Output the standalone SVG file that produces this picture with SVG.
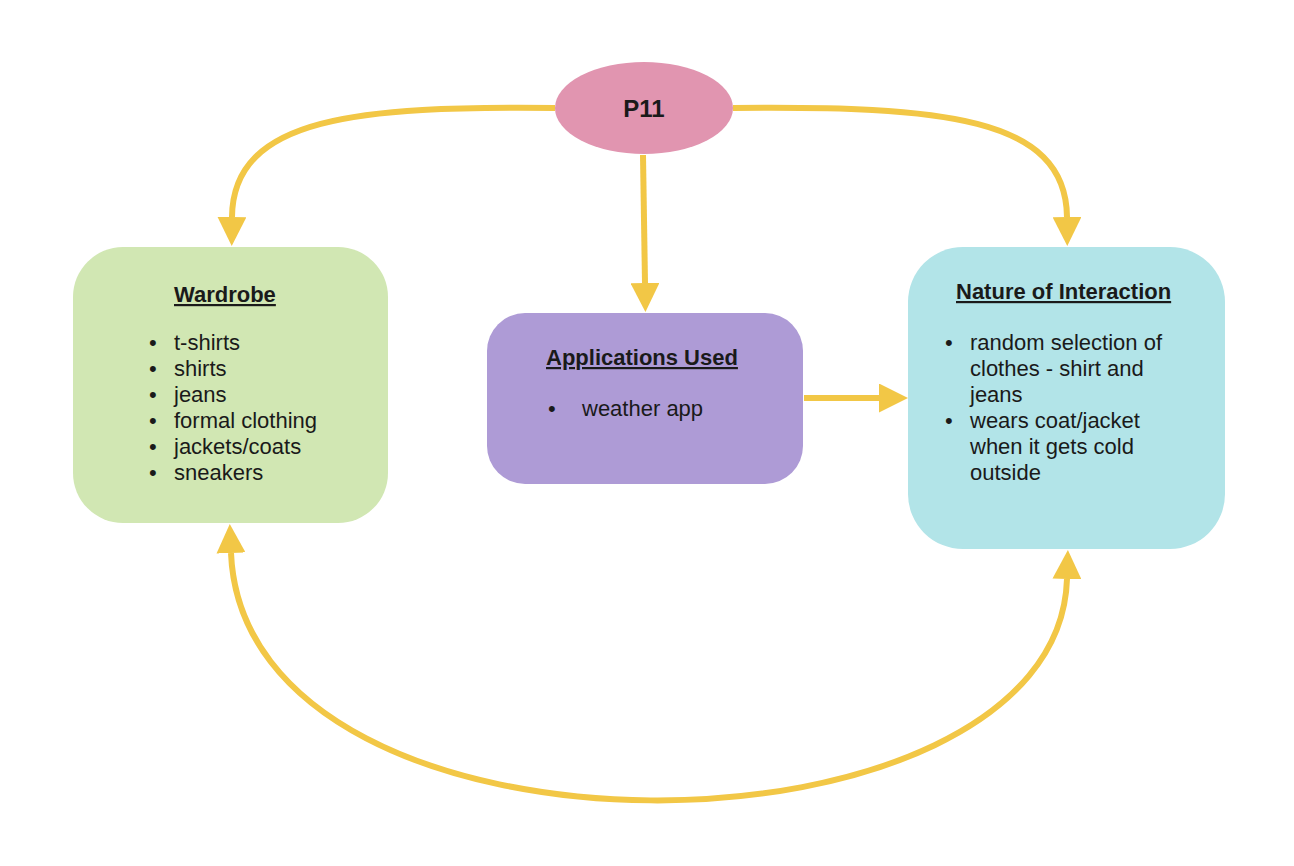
<svg xmlns="http://www.w3.org/2000/svg" width="1294" height="866" viewBox="0 0 1294 866">
  <defs>
    <style>
      .conn { fill: none; stroke: #f2c746; stroke-width: 6; }
      .t { font-family: "Liberation Sans", Arial, sans-serif; font-size: 22px; fill: #1a1a1a; }
      .title { font-weight: bold; text-decoration: underline; }
    </style>
    <marker id="ah" viewBox="0 0 29 29" refX="0" refY="14.5" markerWidth="29" markerHeight="29" markerUnits="userSpaceOnUse" orient="auto-start-reverse">
      <path d="M0,0 L29,14.5 L0,29 Z" fill="#f2c746"/>
    </marker>
  </defs>
  <rect width="1294" height="866" fill="#ffffff"/>

  <g id="connectors">
    <path class="conn" d="M555,108 C360,106 233,116 232,217" marker-end="url(#ah)"/>
    <path class="conn" d="M733,108 C940,106 1066,116 1067,217" marker-end="url(#ah)"/>
    <path class="conn" d="M643,155 L645,283" marker-end="url(#ah)"/>
    <path class="conn" d="M804,398 L879,398" marker-end="url(#ah)"/>
    <path class="conn" d="M231,553 C245,885 1058,872 1067,579" marker-start="url(#ah)" marker-end="url(#ah)"/>
  </g>

  <g id="node-p11">
    <ellipse cx="644" cy="108" rx="89" ry="46" fill="#e195b0"/>
    <text class="t" x="644" y="117" text-anchor="middle" style="font-weight:bold;font-size:24px">P11</text>
  </g>

  <g id="node-wardrobe">
    <rect x="73" y="247" width="315" height="276" rx="50" ry="50" fill="#d1e7b3"/>
    <text class="t title" x="174" y="302">Wardrobe</text>
    <text class="t" x="149" y="350">•</text><text class="t" x="174" y="350">t-shirts</text>
    <text class="t" x="149" y="376">•</text><text class="t" x="174" y="376">shirts</text>
    <text class="t" x="149" y="402">•</text><text class="t" x="174" y="402">jeans</text>
    <text class="t" x="149" y="428">•</text><text class="t" x="174" y="428">formal clothing</text>
    <text class="t" x="149" y="454">•</text><text class="t" x="174" y="454">jackets/coats</text>
    <text class="t" x="149" y="480">•</text><text class="t" x="174" y="480">sneakers</text>
  </g>

  <g id="node-applications">
    <rect x="487" y="313" width="316" height="171" rx="38" ry="38" fill="#ae9bd6"/>
    <text class="t title" x="546" y="365">Applications Used</text>
    <text class="t" x="548" y="416">•</text><text class="t" x="582" y="416">weather app</text>
  </g>

  <g id="node-nature">
    <rect x="908" y="247" width="317" height="302" rx="55" ry="55" fill="#b2e4e8"/>
    <text class="t title" x="956" y="299">Nature of Interaction</text>
    <text class="t" x="945" y="350">•</text><text class="t" x="970" y="350">random selection of</text>
    <text class="t" x="970" y="376">clothes - shirt and</text>
    <text class="t" x="970" y="402">jeans</text>
    <text class="t" x="945" y="428">•</text><text class="t" x="970" y="428">wears coat/jacket</text>
    <text class="t" x="970" y="454">when it gets cold</text>
    <text class="t" x="970" y="480">outside</text>
  </g>
</svg>
